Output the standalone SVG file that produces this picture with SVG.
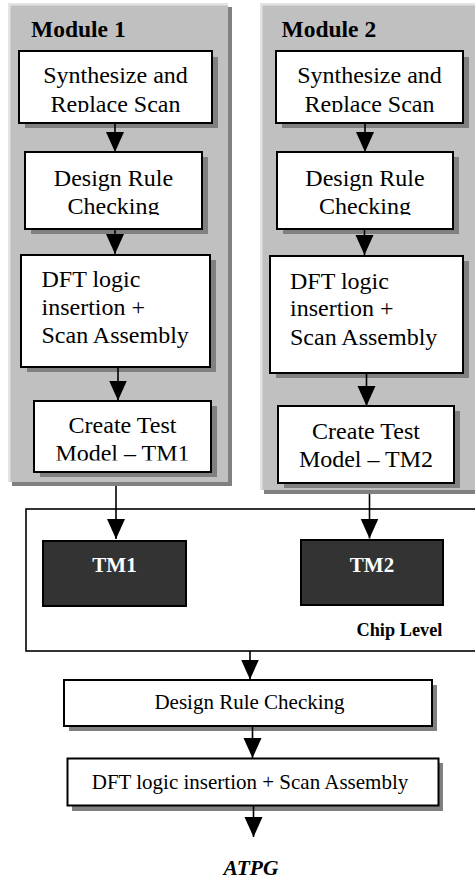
<svg xmlns="http://www.w3.org/2000/svg" width="475" height="882" viewBox="0 0 475 882">
<style>
.panel{fill:#c0c0c0;}
.pshadow{fill:#808080;}
.plight{fill:none;stroke:#e4e4e4;stroke-width:2.5;}
.box{fill:#ffffff;stroke:#000;stroke-width:2;}
.shadow{fill:#808080;}
.dark{fill:#333333;stroke:#000;stroke-width:2;}
.chip{fill:#ffffff;stroke:#000;stroke-width:1.6;}
.t{font-family:"Liberation Serif","Times New Roman",serif;font-size:24px;fill:#000;}
.c{text-anchor:middle;}
.tb{font-family:"Liberation Serif","Times New Roman",serif;font-size:21px;fill:#000;text-anchor:middle;}
.hd{font-family:"Liberation Serif","Times New Roman",serif;font-size:23.5px;font-weight:bold;fill:#000;}
.tm{font-family:"Liberation Serif","Times New Roman",serif;font-size:21px;font-weight:bold;fill:#fff;text-anchor:middle;}
.cl{font-family:"Liberation Serif","Times New Roman",serif;font-size:18.3px;font-weight:bold;fill:#000;}
.atpg{font-family:"Liberation Serif","Times New Roman",serif;font-size:21.5px;font-weight:bold;font-style:italic;fill:#000;text-anchor:middle;}
.conn line{stroke:#000;stroke-width:1.6;marker-end:url(#ah);}
</style>
<defs>
<marker id="ah" viewBox="0 -10 20 20" refX="20" refY="0" markerWidth="20" markerHeight="20" markerUnits="userSpaceOnUse" orient="auto">
<path d="M0,-9 L20,0 L0,9 z" fill="#000"/>
</marker>
<clipPath id="c1" clipPathUnits="userSpaceOnUse"><rect x="0" y="51" width="475" height="61"/></clipPath>
<clipPath id="c2" clipPathUnits="userSpaceOnUse"><rect x="0" y="152" width="475" height="63"/></clipPath>
<clipPath id="c3" clipPathUnits="userSpaceOnUse"><rect x="0" y="401" width="475" height="59.5"/></clipPath>
</defs>
<rect width="475" height="882" fill="#ffffff"/>

<g id="module1">
<rect class="pshadow" x="12" y="7" width="220" height="479"/>
<rect class="panel" x="8" y="3" width="220" height="479"/>
<polyline class="plight" points="9.2,482 9.2,4.2 228,4.2"/>
<text class="hd" x="31" y="37">Module 1</text>
</g>

<g id="module2">
<rect class="pshadow" x="264" y="7" width="230" height="487"/>
<rect class="panel" x="260" y="3" width="230" height="487"/>
<polyline class="plight" points="261.2,490 261.2,4.2 490,4.2"/>
<text class="hd" x="281.5" y="37">Module 2</text>
</g>

<g id="m1-synth">
<rect class="shadow" x="25" y="57" width="193" height="71"/>
<rect class="box" x="19" y="51" width="193" height="72"/>
<g clip-path="url(#c1)">
<text class="t c" x="115.5" y="83">Synthesize and</text>
<text class="t c" x="115.5" y="111.5">Replace Scan</text>
</g>
</g>

<g id="m1-drc">
<rect class="shadow" x="31" y="157" width="177" height="77"/>
<rect class="box" x="25" y="152" width="177" height="77"/>
<g clip-path="url(#c2)">
<text class="t c" x="113.5" y="186">Design Rule</text>
<text class="t c" x="113.5" y="213.5">Checking</text>
</g>
</g>

<g id="m1-dft">
<rect class="shadow" x="27" y="260" width="189" height="112"/>
<rect class="box" x="21" y="255" width="189" height="112"/>
<text class="t" x="41.5" y="287">DFT logic</text>
<text class="t" x="41.5" y="315">insertion +</text>
<text class="t" x="41.5" y="343">Scan Assembly</text>
</g>

<g id="m1-tm">
<rect class="shadow" x="40" y="406" width="177" height="71"/>
<rect class="box" x="34" y="401" width="177" height="71"/>
<g clip-path="url(#c3)">
<text class="t c" x="122.5" y="433">Create Test</text>
<text class="t c" x="122.5" y="460.5">Model – TM1</text>
</g>
</g>

<g id="m2-synth">
<rect class="shadow" x="282" y="57" width="187" height="71"/>
<rect class="box" x="276" y="51" width="187" height="72"/>
<g clip-path="url(#c1)">
<text class="t c" x="369.5" y="83">Synthesize and</text>
<text class="t c" x="369.5" y="111.5">Replace Scan</text>
</g>
</g>

<g id="m2-drc">
<rect class="shadow" x="283" y="157" width="176" height="77"/>
<rect class="box" x="277" y="152" width="176" height="77"/>
<g clip-path="url(#c2)">
<text class="t c" x="365" y="186">Design Rule</text>
<text class="t c" x="365" y="213.5">Checking</text>
</g>
</g>

<g id="m2-dft">
<rect class="shadow" x="276" y="261" width="193" height="117"/>
<rect class="box" x="270" y="256" width="193" height="117"/>
<text class="t" x="290" y="288.5">DFT logic</text>
<text class="t" x="290" y="316">insertion +</text>
<text class="t" x="290" y="345">Scan Assembly</text>
</g>

<g id="m2-tm">
<rect class="shadow" x="284" y="411" width="176" height="77"/>
<rect class="box" x="278" y="406" width="176" height="77"/>
<text class="t c" x="366" y="438.5">Create Test</text>
<text class="t c" x="366" y="466.5">Model – TM2</text>
</g>

<g id="chip">
<rect class="chip" x="26" y="509" width="470" height="142"/>
<text class="cl" x="356.5" y="636">Chip Level</text>
</g>

<g id="tm1">
<rect class="dark" x="43" y="541" width="143" height="65"/>
<text class="tm" x="114.5" y="572">TM1</text>
</g>

<g id="tm2">
<rect class="dark" x="301" y="540" width="142" height="65"/>
<text class="tm" x="372" y="571.5">TM2</text>
</g>

<g id="top-drc">
<rect class="shadow" x="69" y="685" width="368" height="46"/>
<rect class="box" x="64" y="680" width="368" height="46"/>
<text class="tb" x="249.5" y="708.5">Design Rule Checking</text>
</g>

<g id="top-dft">
<rect class="shadow" x="72" y="763" width="371" height="48"/>
<rect class="box" x="67.5" y="758.5" width="371" height="47"/>
<text class="tb" x="250" y="788.5">DFT logic insertion + Scan Assembly</text>
</g>

<g id="atpg">
<text class="atpg" x="251" y="875">ATPG</text>
</g>

<g id="connectors" class="conn">
<line x1="115" y1="123" x2="115" y2="152"/>
<line x1="115" y1="229" x2="115" y2="254"/>
<line x1="118" y1="367" x2="118" y2="400.5"/>
<line x1="116" y1="486" x2="116" y2="539"/>
<line x1="365" y1="123" x2="365" y2="152"/>
<line x1="364.5" y1="229" x2="364.5" y2="255"/>
<line x1="366.5" y1="373" x2="366.5" y2="406"/>
<line x1="369.5" y1="494" x2="369.5" y2="538.5"/>
<line x1="250" y1="651" x2="250" y2="679.5"/>
<line x1="252.5" y1="726" x2="252.5" y2="758"/>
<line x1="253.5" y1="806" x2="253.5" y2="837"/>
</g>
</svg>
